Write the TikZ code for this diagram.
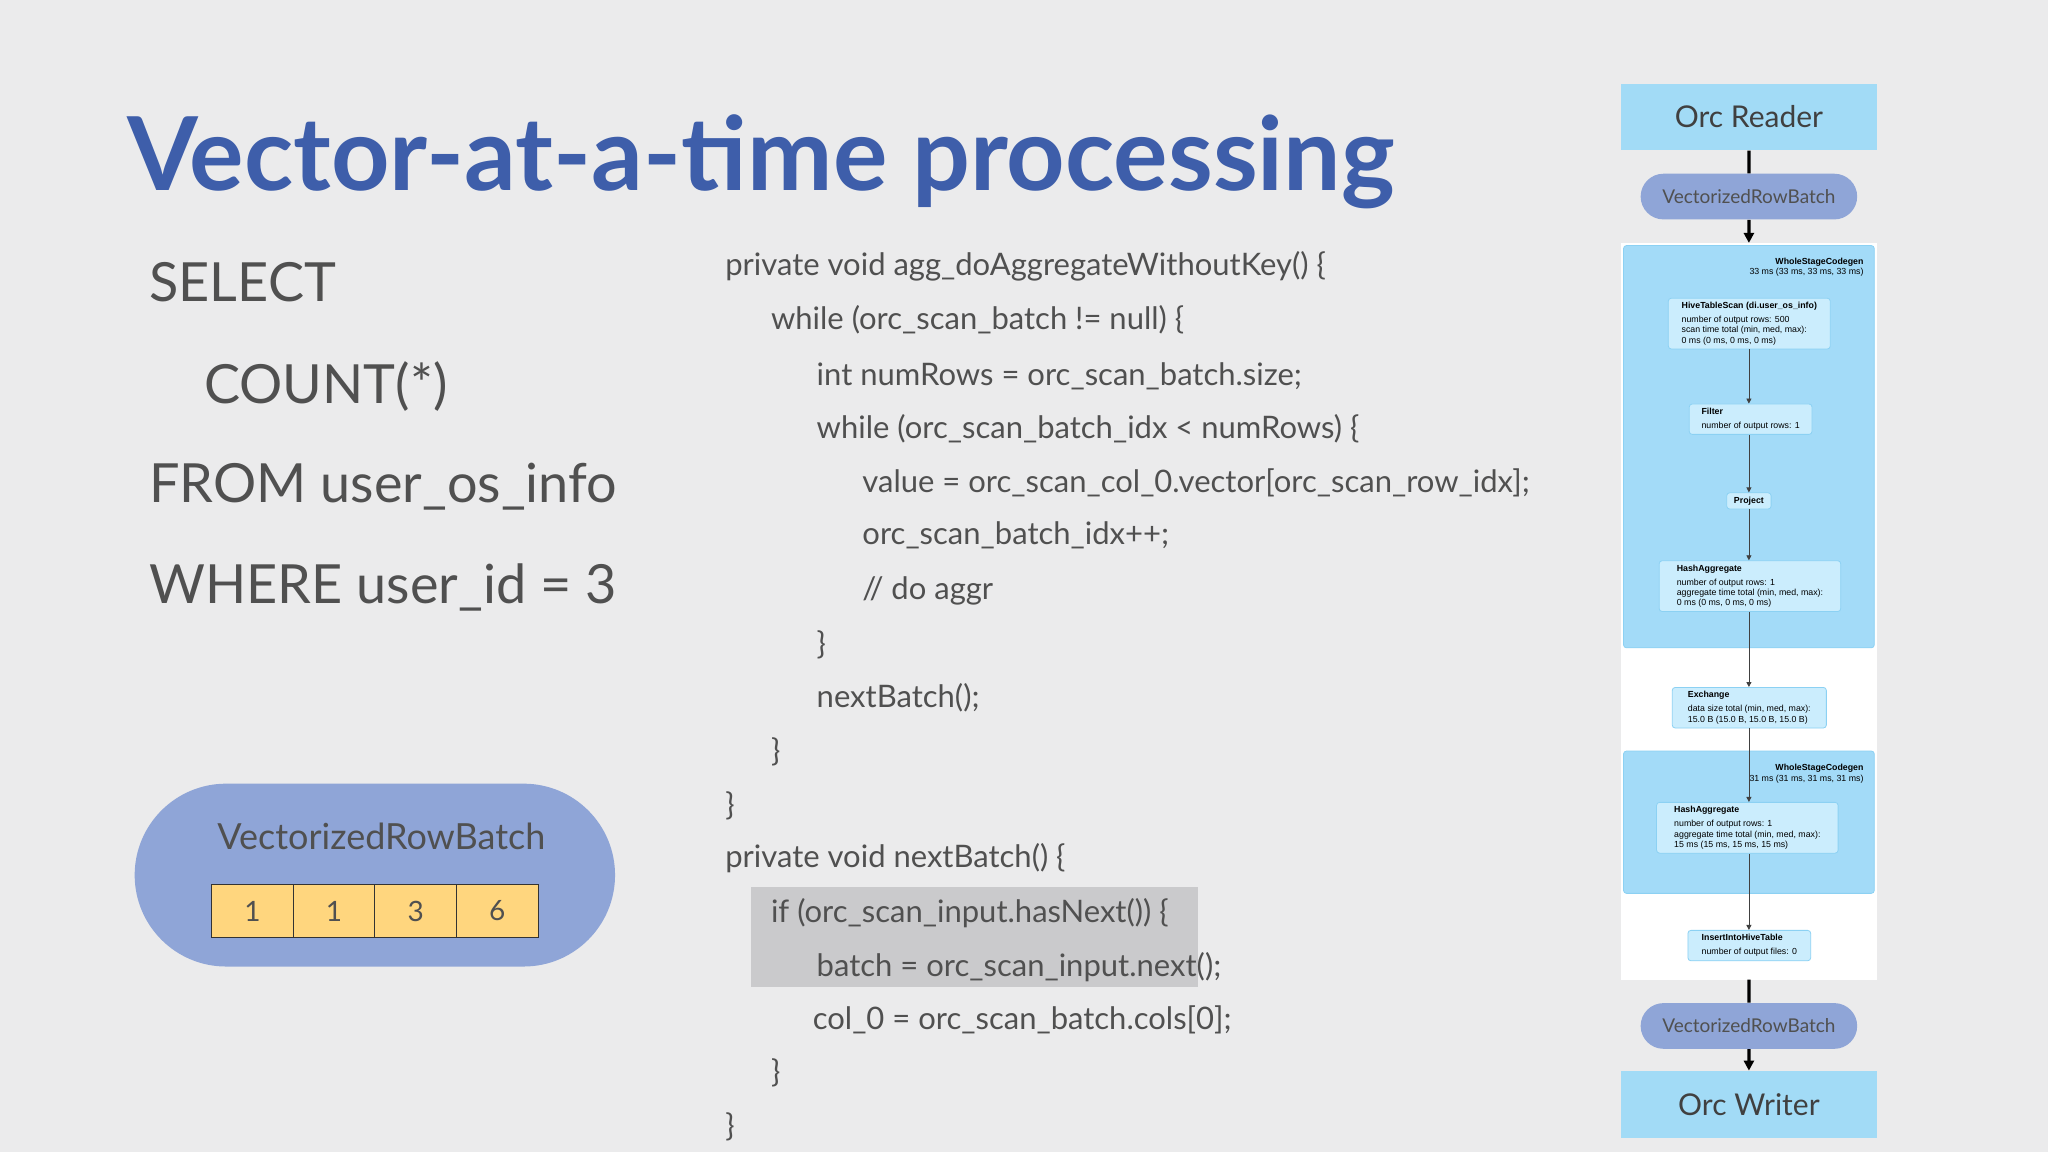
\documentclass[tikz,border=0pt]{standalone}
\usepackage{fontspec}
\usetikzlibrary{positioning,arrows.meta,shapes.misc}
\newfontfamily\slidefont{Lato}
\newfontfamily\uifont{Liberation Sans}
\definecolor{bgcol}{HTML}{EBEBEC}
\definecolor{titleblue}{HTML}{3E5EAA}
\definecolor{codegray}{HTML}{505050}
\definecolor{pillblue}{HTML}{8FA5D7}
\definecolor{cellyellow}{HTML}{FFD67E}
\definecolor{orcblue}{HTML}{A2DBF6}
\definecolor{stageblue}{HTML}{A3DBF8}
\definecolor{opfill}{HTML}{CBEDFD}
\definecolor{opdraw}{HTML}{8CD1F3}
\definecolor{hilite}{HTML}{CACACC}
\tikzset{
  code/.style={anchor=base west, text=codegray, font=\slidefont\fontsize{15.5}{18}\selectfont, inner sep=0pt},
  sql/.style={anchor=base west, text=codegray, font=\slidefont\fontsize{27}{30}\selectfont, inner sep=0pt},
  orcbox/.style={fill=orcblue, minimum width=196*0.653pt, minimum height=51*0.653pt, font=\slidefont\fontsize{15}{18}\selectfont, text=codegray!80!black},
  batchpill/.style={rounded rectangle, fill=pillblue, minimum width=176*0.653pt, minimum height=35*0.653pt, font=\slidefont\fontsize{9.5}{11}\selectfont, text=codegray},
  opbox/.style={draw=opdraw, fill=opfill, rounded corners=1.5pt, align=left, inner sep=2pt, font=\uifont\fontsize{4.4}{5.1}\selectfont, anchor=north west},
  cell/.style={draw=black!80, fill=cellyellow, minimum width=62.5*0.653pt, minimum height=41*0.653pt, font=\slidefont\fontsize{14}{16}\selectfont, text=codegray, inner sep=0pt},
  thinarrow/.style={-{Triangle[length=2.5pt,width=2.5pt]}, black!75, line width=0.4pt},
  thickarrow/.style={-{Triangle[length=5pt,width=5pt]}, black, line width=1.6pt}
}
\begin{document}
\begin{tikzpicture}[x=0.653pt, y=-0.653pt]
  % background
  \fill[bgcol] (0,0) rectangle (1568,882);
  \useasboundingbox (0,0) rectangle (1568,882);

  % title
  \node[anchor=base west, text=titleblue, inner sep=0pt, font=\slidefont\bfseries\fontsize{51}{60}\selectfont] (title) at (97,146) {Vector-at-a-time processing};

  % query
  \node[sql] (sel) at (114,231) {SELECT};
  \node[sql] (cnt) at (156,309) {COUNT(*)};
  \node[sql] (frm) at (114,385) {FROM user\_os\_info};
  \node[sql] (whr) at (114,462) {WHERE user\_id = 3};

  % batch pill
  \node[rounded rectangle, fill=pillblue, minimum width=378*0.653pt, minimum height=140*0.653pt] (batch) at (287,670) {};
  \node[text=codegray, font=\slidefont\fontsize{18}{20}\selectfont] (batchlbl) at (292,640) {VectorizedRowBatch};
  \foreach \v [count=\i] in {1,1,3,6}
    \node[cell] (c\i) at (162+62.5*\i-31.25,697.5) {\v};

  % code
  \fill[hilite] (575,679) rectangle (917,756);
  \node[code] (l1) at (555,211) {private void agg\_doAggregateWithoutKey() \{};
  \node[code] (l2) at (590,252) {while (orc\_scan\_batch != null) \{};
  \node[code] (l3) at (625,295) {int numRows = orc\_scan\_batch.size;};
  \node[code] (l4) at (625,336) {while (orc\_scan\_batch\_idx < numRows) \{};
  \node[code] (l5) at (660,377) {value = orc\_scan\_col\_0.vector[orc\_scan\_row\_idx];};
  \node[code] (l6) at (660,417) {orc\_scan\_batch\_idx++;};
  \node[code] (l7) at (660,459) {// do aggr};
  \node[code] (l8) at (625,501) {\}};
  \node[code] (l9) at (625,542) {nextBatch();};
  \node[code] (l10) at (590,583) {\}};
  \node[code] (l11) at (555,624) {\}};
  \node[code] (l12) at (555,664) {private void nextBatch() \{};
  \node[code] (l13) at (590,706) {if (orc\_scan\_input.hasNext()) \{};
  \node[code] (l14) at (625,748) {batch = orc\_scan\_input.next();};
  \node[code] (l15) at (622,788) {col\_0 = orc\_scan\_batch.cols[0];};
  \node[code] (l16) at (590,829) {\}};
  \node[code] (l17) at (555,870) {\}};

  % plan panel
  \node[orcbox] (reader) at (1339,89.5) {Orc Reader};
  \node[batchpill] (inpill) at (1339,150.5) {VectorizedRowBatch};
  \fill[white] (1241,186) rectangle (1437,750);
  \coordinate (paneltop) at (1339,186);
  \coordinate (panelbot) at (1339,750);
  \fill[stageblue, draw=opdraw, rounded corners=1.5pt] (1243,188) rectangle (1435,496);
  \fill[stageblue, draw=opdraw, rounded corners=1.5pt] (1243,575) rectangle (1435,684);
  \node[anchor=north east, align=right, inner sep=0pt, font=\uifont\fontsize{4.4}{5.1}\selectfont] (wsc1) at (1427,197) {\textbf{WholeStageCodegen}\\33 ms (33 ms, 33 ms, 33 ms)};
  \node[anchor=north east, align=right, inner sep=0pt, font=\uifont\fontsize{4.4}{5.1}\selectfont] (wsc2) at (1427,585) {\textbf{WholeStageCodegen}\\31 ms (31 ms, 31 ms, 31 ms)};
  \node[opbox, minimum width=124*0.653pt] (scan) at (1277,228) {\textbf{HiveTableScan (di.user\_os\_info)}\\[2pt]number of output rows: 500\\scan time total (min, med, max):\\0 ms (0 ms, 0 ms, 0 ms)};
  \node[opbox, minimum width=94*0.653pt] (filter) at (1293,309) {\textbf{Filter}\\[2pt]number of output rows: 1};
  \node[opbox, minimum width=34*0.653pt, anchor=north] (project) at (1339,377) {\textbf{Project}};
  \node[opbox, minimum width=139*0.653pt] (agg1) at (1270,429) {\textbf{HashAggregate}\\[2pt]number of output rows: 1\\aggregate time total (min, med, max):\\0 ms (0 ms, 0 ms, 0 ms)};
  \node[opbox, minimum width=118*0.653pt] (exch) at (1280,526) {\textbf{Exchange}\\[2pt]data size total (min, med, max):\\15.0 B (15.0 B, 15.0 B, 15.0 B)};
  \node[opbox, minimum width=139*0.653pt] (agg2) at (1268,614) {\textbf{HashAggregate}\\[2pt]number of output rows: 1\\aggregate time total (min, med, max):\\15 ms (15 ms, 15 ms, 15 ms)};
  \node[opbox, minimum width=94*0.653pt] (insert) at (1292,712) {\textbf{InsertIntoHiveTable}\\[2pt]number of output files: 0};
  \node[batchpill] (outpill) at (1339,785.5) {VectorizedRowBatch};
  \node[orcbox] (writer) at (1339,845.5) {Orc Writer};

  % connectors
  \draw[black, line width=1.6pt] (reader) -- (inpill);
  \draw[thickarrow] (inpill) -- (paneltop);
  \draw[thinarrow] (scan.south -| project) -- (filter.north -| project);
  \draw[thinarrow] (filter.south -| project) -- (project);
  \draw[thinarrow] (project) -- (agg1.north -| project);
  \draw[thinarrow] (agg1.south -| project) -- (exch.north -| project);
  \draw[thinarrow] (exch.south -| project) -- (agg2.north -| project);
  \draw[thinarrow] (agg2.south -| project) -- (insert.north -| project);
  \draw[black, line width=1.6pt] (panelbot) -- (outpill);
  \draw[thickarrow] (outpill) -- (writer);
\end{tikzpicture}
\end{document}
